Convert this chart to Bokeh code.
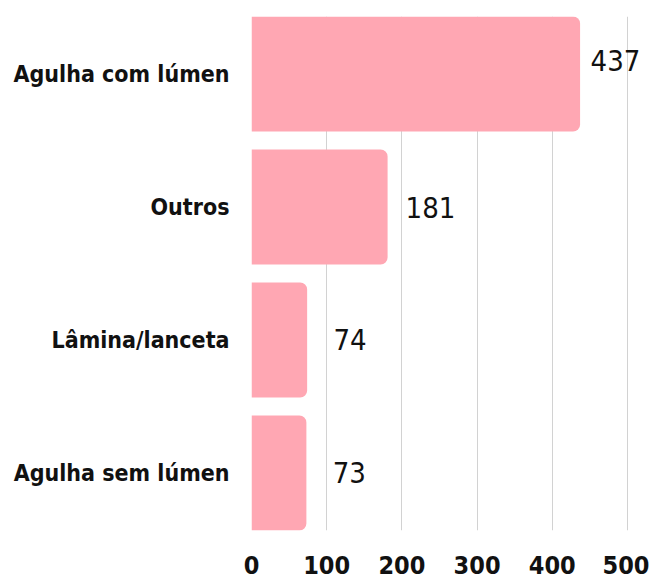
from bokeh.plotting import figure
from bokeh.models import Range1d, FixedTicker, ColumnDataSource
from bokeh.core.properties import value
from bokeh.embed import file_html
from bokeh.resources import INLINE

categories = ["Agulha com lúmen", "Outros", "Lâmina/lanceta", "Agulha sem lúmen"]
counts = [437, 181, 74, 73]
x_ticks = [0, 100, 200, 300, 400, 500]

FONT = "DejaVu Sans Condensed"
BAR_COLOR = "#ffa7b3"
BAR_H = 0.865
X_MAX = 524
LABEL_GAP = 57      # data units from bar end to label centre
LABEL_CAP = 484     # labels may not go further right than this

pos = list(range(len(categories)))
label_x = [min(c + LABEL_GAP, LABEL_CAP) for c in counts]
label_dy = [-14 if c + LABEL_GAP > LABEL_CAP else 0 for c in counts]
src = ColumnDataSource(dict(y=pos, right=counts, lx=label_x, dy=label_dy,
                            txt=[str(c) for c in counts]))

p = figure(width=649, height=579, output_backend="svg", toolbar_location=None,
           x_range=Range1d(0, X_MAX),
           y_range=Range1d(len(categories) - 1 + BAR_H / 2, -BAR_H / 2),
           min_border_left=251, min_border_top=16, min_border_bottom=49,
           min_border_right=4)
p.outline_line_color = None
p.background_fill_color = "white"
p.border_fill_color = "white"

p.hbar(y="y", left=0, right="right", height=BAR_H, source=src,
       fill_color=BAR_COLOR, line_color=None, border_radius=(0, 7, 7, 0))

p.text(x="lx", y="y", text="txt", y_offset="dy", source=src,
       text_align="center", text_baseline="middle",
       text_font=value(FONT), text_font_size="29px", text_color="#111111")

# grid
p.ygrid.visible = False
p.xgrid.ticker = FixedTicker(ticks=x_ticks)
p.xgrid.grid_line_color = "#d2d2d2"
p.xgrid.grid_line_width = 1
p.xgrid.level = "underlay"

# x axis
p.xaxis.ticker = FixedTicker(ticks=x_ticks)
p.xaxis.axis_line_color = None
p.xaxis.major_tick_line_color = None
p.xaxis.minor_tick_line_color = None
p.xaxis.major_tick_out = 0
p.xaxis.major_label_standoff = 25
p.xaxis.major_label_text_font = FONT
p.xaxis.major_label_text_font_style = "bold"
p.xaxis.major_label_text_font_size = "25px"
p.xaxis.major_label_text_color = "#111111"

# y axis
p.yaxis.ticker = FixedTicker(ticks=pos)
p.yaxis.major_label_overrides = {i: c for i, c in zip(pos, categories)}
p.yaxis.axis_line_color = None
p.yaxis.major_tick_line_color = None
p.yaxis.minor_tick_line_color = None
p.yaxis.major_tick_out = 0
p.yaxis.major_label_standoff = 22
p.yaxis.major_label_text_font = FONT
p.yaxis.major_label_text_font_style = "bold"
p.yaxis.major_label_text_font_size = "23px"
p.yaxis.major_label_text_color = "#111111"

open("out.html", "w").write(file_html(p, INLINE))
